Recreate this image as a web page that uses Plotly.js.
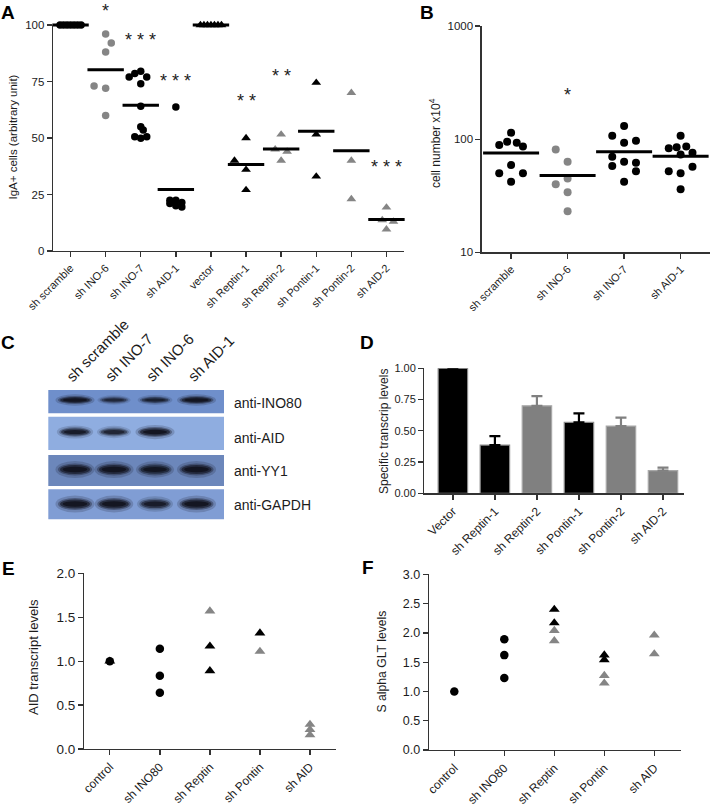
<!DOCTYPE html>
<html><head><meta charset="utf-8">
<script src="https://cdn.plot.ly/plotly-3.0.1.min.js"></script>
<style>html,body{margin:0;padding:0;background:#fff}</style>
</head><body><div id="chart" style="width:711px;height:806px"></div>
<script>
// ================= DATA =================
// Panel A: IgA+ cells (arbitrary unit)
const catsA = ["sh scramble","sh INO-6","sh INO-7","sh AID-1","vector","sh Reptin-1","sh Reptin-2","sh Pontin-1","sh Pontin-2","sh AID-2"];
const valsA_shScramble = [100,100,100,100,100,100,100];
const valsA_shINO6     = [96,92,88,73,72,60];
const valsA_shINO7     = [77,78.5,79.5,77,74,64,55,53.5,50.6,49.9,50.6];
const valsA_shAID1     = [63.7,22.5,22.5,21.5,21,20,19.5];
const valsA_vector     = [100,100,100,100,100,100,100];
const valsA_shReptin1  = [50,40,36,27];
const valsA_shReptin2  = [51.6,45,44,40];
const valsA_shPontin1  = [74.5,51.6,33];
const valsA_shPontin2  = [70,40,23];
const valsA_shAID2     = [19.3,13.7,13,9.6];
const starsA = ["","*","* * *","* * *","","* *","* *","","","* * *"];

// Panel B: cell number x10^4
const catsB = ["sh scramble","sh INO-6","sh INO-7","sh AID-1"];
const valsB_shScramble = [114,89,95,93,86,59,50,50,42];
const valsB_shINO6     = [81,63,45,40,34,23];
const valsB_shINO7     = [131,107,93,97,70,63,62,58,52,42];
const valsB_shAID1     = [107,83,85,86,76,73,57,52,50,36];
const starsB = ["","*","",""];

// Panel C: western blot (relative band intensity per lane)
const blotLanes = ["sh scramble","sh INO-7","sh INO-6","sh AID-1"];
const blotRows  = ["anti-INO80","anti-AID","anti-YY1","anti-GAPDH"];
const band_INO80 = [1.0,0.45,0.6,1.0];
const band_AID   = [0.75,0.55,1.0,0];
const band_YY1   = [1.0,1.0,0.9,1.0];
const band_GAPDH = [1.0,0.95,0.72,1.0];

// Panel D: specific transcript levels
const catsD = ["Vector","sh Reptin-1","sh Reptin-2","sh Pontin-1","sh Pontin-2","sh AID-2"];
const valsD = [1.0,0.386,0.70,0.568,0.538,0.181];
const errD  = [0,0.072,0.078,0.072,0.067,0.024];
const shadeD = ["black","black","grey","black","grey","grey"];

// Panel E: AID transcript levels
const catsE = ["control","sh INO80","sh Reptin","sh Pontin","sh AID"];
const E_circle_cat = ["control","sh INO80","sh INO80","sh INO80"];
const E_circle_val = [1.0,1.14,0.835,0.64];
const E_blackTri_cat = ["control","sh Reptin","sh Reptin","sh Pontin"];
const E_blackTri_val = [1.0,1.17,0.89,1.32];
const E_greyTri_cat = ["sh Reptin","sh Pontin","sh AID","sh AID","sh AID"];
const E_greyTri_val = [1.57,1.11,0.28,0.22,0.16];

// Panel F: S alpha GLT levels
const catsF = ["control","sh INO80","sh Reptin","sh Pontin","sh AID"];
const F_circle_cat = ["control","sh INO80","sh INO80","sh INO80"];
const F_circle_val = [1.0,1.89,1.62,1.23];
const F_blackTri_cat = ["sh Reptin","sh Reptin","sh Pontin","sh Pontin"];
const F_blackTri_val = [2.40,2.17,1.62,1.54];
const F_greyTri_cat = ["sh Reptin","sh Reptin","sh Pontin","sh Pontin","sh AID","sh AID"];
const F_greyTri_val = [2.04,1.865,1.27,1.14,1.96,1.64];

// ================= STYLE / LAYOUT =================
const W = 711, H = 806;
const FONT = "Liberation Sans, Arial, Helvetica, sans-serif";
const INK = "#1c1c1c";
const GREY = "#858585";
const px2x = p => p / W;
const px2y = p => 1 - p / H;

// horizontal scatter offsets (point layout, like GraphPad's column scatter)
const jitA = [
  [-0.3,-0.2,-0.1,0,0.1,0.2,0.3],
  [0,0.16,0,-0.33,0,0],
  [-0.33,-0.17,0,0.17,0,0,0,0.07,-0.17,0,0.17],
  [0,-0.17,0,0.17,-0.17,0,0.17],
  [-0.3,-0.2,-0.1,0,0.1,0.2,0.3],
  [0,-0.33,0,0],
  [0,-0.17,0.17,0],
  [0,0,0],
  [0,0,0],
  [0,-0.12,0.2,0]
];
const jitB = [
  [0,-0.21,-0.07,0.1,0.21,0,-0.21,0.21,0],
  [-0.21,0,0,-0.21,0,0],
  [0,-0.21,0,0.21,-0.21,0,0.21,-0.21,0.21,0],
  [0,-0.21,-0.07,0.1,0.21,0,0.21,-0.21,0,0]
];
const starLevelA = [null,108,95,77,null,68,79,null,null,39];
const starLevelB = [null,264,null,null];

const groupsA = [valsA_shScramble,valsA_shINO6,valsA_shINO7,valsA_shAID1,valsA_vector,valsA_shReptin1,valsA_shReptin2,valsA_shPontin1,valsA_shPontin2,valsA_shAID2];
const styleA = [
  ["black","circle"],[GREY,"circle"],["black","circle"],["black","circle"],
  ["black","triangle-up"],["black","triangle-up"],[GREY,"triangle-up"],["black","triangle-up"],[GREY,"triangle-up"],[GREY,"triangle-up"]
];
const groupsB = [valsB_shScramble,valsB_shINO6,valsB_shINO7,valsB_shAID1];
const colorB = ["black",GREY,"black","black"];

const mean = a => a.reduce((s,v)=>s+v,0)/a.length;
const traces = [];

// ---- Panel A
groupsA.forEach((vals,i)=>{
  traces.push({type:"scatter",mode:"markers",xaxis:"x",yaxis:"y",cliponaxis:false,hoverinfo:"skip",
    x: vals.map((v,j)=>i+jitA[i][j]), y: vals,
    marker:{color:styleA[i][0],symbol:styleA[i][1],size:styleA[i][1]==="circle"?7.5:8.5,line:{width:0}}});
});
traces.push({type:"scatter",mode:"markers",xaxis:"x",yaxis:"y",cliponaxis:false,hoverinfo:"skip",
  x: catsA.map((c,i)=>i), y: groupsA.map(mean),
  marker:{symbol:"line-ew",size:26,color:"black",line:{width:3,color:"black"}}});

// ---- Panel B
groupsB.forEach((vals,i)=>{
  traces.push({type:"scatter",mode:"markers",xaxis:"x2",yaxis:"y2",cliponaxis:false,hoverinfo:"skip",
    x: vals.map((v,j)=>i+jitB[i][j]), y: vals,
    marker:{color:colorB[i],symbol:"circle",size:8,line:{width:0}}});
});
traces.push({type:"scatter",mode:"markers",xaxis:"x2",yaxis:"y2",cliponaxis:false,hoverinfo:"skip",
  x: catsB.map((c,i)=>i), y: groupsB.map(mean),
  marker:{symbol:"line-ew",size:40,color:"black",line:{width:3,color:"black"}}});

// ---- Panel D
["black","grey"].forEach(sh=>{
  const idx = shadeD.map((s,i)=>s===sh?i:-1).filter(i=>i>=0);
  const col = sh==="black" ? "#000000" : "#808080";
  traces.push({type:"bar",xaxis:"x4",yaxis:"y4",hoverinfo:"skip",width:0.7,
    x: idx, y: idx.map(i=>valsD[i]),
    marker:{color:col,line:{color: sh==="black" ? "#8a8a8a" : "#a8a8a8", width:1.2}},
    error_y:{type:"data",symmetric:false,array:idx.map(i=>errD[i]),arrayminus:idx.map(()=>0),
      color:col,thickness:2.2,width:5.5}});
});

// ---- Panel E / F
function pts(cats, catArr, valArr, ax, col, sym){
  return {type:"scatter",mode:"markers",xaxis:"x"+ax,yaxis:"y"+ax,cliponaxis:false,hoverinfo:"skip",
    x: catArr.map(c=>cats.indexOf(c)), y: valArr,
    marker:{color:col,symbol:sym,size:sym==="circle"?8.5:9.5,line:{width:0}}};
}
traces.push(pts(catsE,E_blackTri_cat,E_blackTri_val,5,"black","triangle-up"));
traces.push(pts(catsE,E_greyTri_cat,E_greyTri_val,5,GREY,"triangle-up"));
traces.push(pts(catsE,E_circle_cat,E_circle_val,5,"black","circle"));
traces.push(pts(catsF,F_greyTri_cat,F_greyTri_val,6,GREY,"triangle-up"));
traces.push(pts(catsF,F_blackTri_cat,F_blackTri_val,6,"black","triangle-up"));
traces.push(pts(catsF,F_circle_cat,F_circle_val,6,"black","circle"));

// ---- axes
const axBase = {showgrid:false,zeroline:false,showline:true,linecolor:"#333",linewidth:1.3,
  ticks:"outside",ticklen:5,tickwidth:1.3,tickcolor:"#333",fixedrange:true,automargin:false};
const tf = s => ({family:FONT,size:s,color:INK});
const catAxis = (dom, rng, cats, anchor, fs) => Object.assign({}, axBase, {
  domain:dom, range:rng, anchor:anchor, tickmode:"array",
  tickvals:cats.map((c,i)=>i), ticktext:cats, tickangle:-45, tickfont:tf(fs)});

const domA = [px2y(251),px2y(25)], domB = [px2y(252.3),px2y(26)];
const layout = {
  width:W, height:H, margin:{l:0,r:0,t:0,b:0}, paper_bgcolor:"#fff", plot_bgcolor:"rgba(0,0,0,0)",
  showlegend:false, barmode:"overlay", font:{family:FONT,color:INK},
  xaxis: catAxis([px2x(53),px2x(404)],[-0.5,9.5],catsA,"y",11),
  yaxis: Object.assign({},axBase,{domain:domA,range:[0,100],anchor:"x",
    tickvals:[0,25,50,75,100],tickfont:tf(11.5)}),
  xaxis2: catAxis([px2x(481.7),px2x(710)],[-0.52,3.52],catsB,"y2",11),
  yaxis2: Object.assign({},axBase,{domain:domB,type:"log",range:[1,3],anchor:"x2",
    tickvals:[10,100,1000],ticktext:["10","100","1000"],tickfont:tf(11.5)}),
  xaxis3: {domain:[0,px2x(360)],range:[0,360],visible:false,fixedrange:true,anchor:"y3"},
  yaxis3: {domain:[px2y(530),px2y(320)],range:[530,320],visible:false,fixedrange:true,anchor:"x3"},
  xaxis4: catAxis([px2x(424.3),px2x(684)],[-0.68,5.5],catsD,"y4",12),
  yaxis4: Object.assign({},axBase,{domain:[px2y(493.3),px2y(368.3)],range:[0,1],anchor:"x4",
    tickvals:[0,0.25,0.5,0.75,1],tickformat:".2f",tickfont:tf(11)}),
  xaxis5: catAxis([px2x(84.3),px2x(336)],[-0.51,4.52],catsE,"y5",12),
  yaxis5: Object.assign({},axBase,{domain:[px2y(749),px2y(573.3)],range:[0,2],anchor:"x5",
    tickvals:[0,0.5,1,1.5,2],tickformat:".1f",tickfont:tf(13.5)}),
  xaxis6: catAxis([px2x(429),px2x(680.7)],[-0.506,4.528],catsF,"y6",12),
  yaxis6: Object.assign({},axBase,{domain:[px2y(750),px2y(574.3)],range:[0,3],anchor:"x6",
    tickvals:[0,0.5,1,1.5,2,2.5,3],tickformat:".1f",tickfont:tf(12.5)}),
  annotations:[], shapes:[]
};
const ann = layout.annotations, shp = layout.shapes;

// panel letters
[["A",8,13],["B",427,12],["C",8,343],["D",367,342],["E",8,568],["F",368,567]].forEach(([t,x,y])=>{
  ann.push({xref:"paper",yref:"paper",x:px2x(x),y:px2y(y),xanchor:"center",yanchor:"middle",showarrow:false,
    text:"<b>"+t+"</b>",font:{family:FONT,size:19,color:"#000"}});
});
// axis titles
[["IgA+ cells (arbitrary unit)",12.5,137,11.5],["cell number x10<sup>4</sup>",435,143,12],
 ["Specific transcrip levels",384,431,12],["AID transcript levels",33,657,13],["S alpha GLT levels",381.5,662,12.2]
].forEach(([t,x,y,s])=>{
  ann.push({xref:"paper",yref:"paper",x:px2x(x),y:px2y(y),xanchor:"center",yanchor:"middle",showarrow:false,
    textangle:-90,text:t,font:tf(s)});
});
// significance stars (y converted to paper so they may sit above the axis range)
starsA.forEach((s,i)=>{ if(s) ann.push({xref:"x",yref:"paper",x:i,
  y: domA[0] + starLevelA[i]/100*(domA[1]-domA[0]), text:s,showarrow:false,
  xanchor:"center",yanchor:"middle",yshift:-4,font:{family:FONT,size:18,color:INK}}); });
starsB.forEach((s,i)=>{ if(s) ann.push({xref:"x2",yref:"paper",x:i,
  y: domB[0] + (Math.log10(starLevelB[i])-1)/2*(domB[1]-domB[0]), text:s,showarrow:false,
  xanchor:"center",yanchor:"middle",yshift:-4,font:{family:FONT,size:18,color:INK}}); });

// ---- Panel C: blot drawn in pixel-space axes x3/y3
const blotX0 = 48.3, blotX1 = 224;
const rowBox = [[390,413.3],[416.7,450],[455,486],[489.3,519.3]];
const rowFill = ["#6f8fcb","#8fade0","#6c87bb","#809dd4"];
const rowBandY = [400,432,469.5,504];
const rowBandH = [6,7.5,9,9];
const laneX = [75,114,155,196.5];
const bands = [band_INO80,band_AID,band_YY1,band_GAPDH];
rowBox.forEach((b,r)=>{
  shp.push({type:"rect",xref:"x3",yref:"y3",x0:blotX0,x1:blotX1,y0:b[0],y1:b[1],fillcolor:rowFill[r],line:{width:0},layer:"below"});
  bands[r].forEach((I,l)=>{
    if(I<=0) return;
    const cx = laneX[l], cy = rowBandY[r], h = rowBandH[r];
    const baseW = 34*(0.72+0.28*I);
    [[1.15,1.9,0.18],[1.0,1.35,0.35],[0.88,1.0,0.6],[0.72,0.6,0.85]].forEach(([fw,fh,op])=>{
      const w = baseW*fw, hh = h*fh*(0.7+0.3*I);
      shp.push({type:"circle",xref:"x3",yref:"y3",x0:cx-w/2,x1:cx+w/2,y0:cy-hh/2,y1:cy+hh/2,
        fillcolor:"#10121c",opacity:op*Math.min(1,0.35+0.7*I),line:{width:0}});
    });
  });
  ann.push({xref:"x3",yref:"y3",x:231.5,y:[402.5,438.3,470.8,505][r],xanchor:"left",yanchor:"middle",
    showarrow:false,text:blotRows[r],font:tf(14)});
});
// lane labels (rotated 45°), placed by their centre
const ctx = document.createElement("canvas").getContext("2d");
ctx.font = '15px "Liberation Sans"';
const c45 = Math.SQRT1_2;
blotLanes.forEach((t,l)=>{
  const w = ctx.measureText(t).width;
  const sx = laneX[l]-3, sy = 382.5;
  const cx = sx + (w/2)*c45 - 0.33*15*c45;
  const cy = sy - (w/2)*c45 - 0.33*15*c45;
  ann.push({xref:"x3",yref:"y3",x:cx,y:cy,xanchor:"center",yanchor:"middle",textangle:-45,
    showarrow:false,text:t,font:tf(15)});
});

Plotly.newPlot("chart", traces, layout, {staticPlot:true,displayModeBar:false});
</script>
</body></html>
